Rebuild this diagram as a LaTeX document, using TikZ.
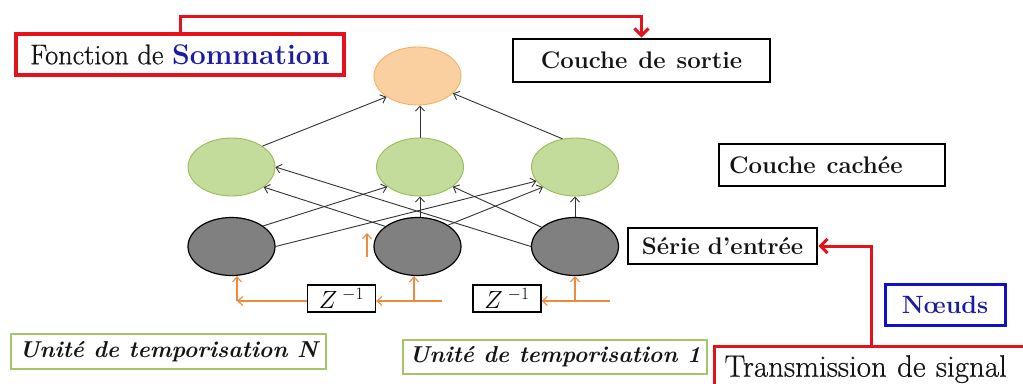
\documentclass[tikz,border=0pt]{standalone}
\usepackage{fontspec}
\newfontfamily\darkserif{Latin Modern Roman}[FakeBold=0.6]
\usetikzlibrary{shapes.geometric,arrows.meta,calc}
\definecolor{sigred}{HTML}{E5121B}
\definecolor{sumblue}{HTML}{1C1CA0}
\definecolor{boxblue}{HTML}{1010C8}
\definecolor{hidfill}{HTML}{C3DC9B}
\definecolor{hiddraw}{HTML}{9BBB59}
\definecolor{outfill}{HTML}{FAD0A0}
\definecolor{outdraw}{HTML}{F3B168}
\definecolor{infill}{HTML}{808080}
\definecolor{delay}{HTML}{EE8A3C}
\definecolor{unitdraw}{HTML}{A6C46A}
\definecolor{inkk}{HTML}{141414}

\begin{document}
\begin{tikzpicture}[x=1pt,y=-1pt,
  neuron/.style={ellipse, minimum width=87pt, minimum height=58pt, inner sep=0pt, line width=0.9pt},
  outn/.style={neuron, fill=outfill, draw=outdraw},
  hidn/.style={neuron, fill=hidfill, draw=hiddraw},
  inn/.style={neuron, fill=infill, draw=black, line width=1.2pt},
  syn/.style={draw=black!80, line width=0.9pt, -{Straight Barb[length=5pt,width=9pt]}},
  tag/.style={draw=black, line width=2.8pt, inner sep=0pt, font=\fontsize{24}{27}\selectfont\bfseries, text=inkk},
  redtag/.style={draw=sigred, line width=3.2pt, inner sep=0pt, text=inkk},
  unit/.style={draw=unitdraw, line width=1.4pt, inner sep=0pt, font=\fontsize{23}{26}\selectfont\bfseries\itshape, text=inkk},
  delaybox/.style={draw=black, line width=1.3pt, minimum width=68pt, minimum height=27pt, inner sep=0pt, font=\fontsize{23}{24}\selectfont},
  feed/.style={draw=delay, line width=1.1pt, -{Straight Barb[length=5pt,width=9pt]}},
  sig/.style={draw=sigred, line width=3pt, -{Straight Barb[length=7pt,width=14pt]}}
]
\useasboundingbox (0,0) rectangle (1023,383);
\clip (0,0) rectangle (1023,383);
\fill[white] (0,0) rectangle (1023,383);

% neurons
\node[outn] (out) at (417.5,76) {};
\node[hidn] (h1) at (231.5,167) {};
\node[hidn] (h2) at (420,167) {};
\node[hidn] (h3) at (575,167) {};
\node[inn] (i1) at (231.5,246.5) {};
\node[inn] (i2) at (417.5,246.5) {};
\node[inn] (i3) at (575,246.5) {};

% input -> hidden
\draw[syn] (i1.33) -- (h2.211);
\draw[syn] (i1.0) -- (h3.200);
\draw[syn] (i2.148) -- (h1.328);
\draw[syn] (h2.south |- i2.north) -- (h2.south);
\draw[syn] (i2.35) -- (h3.212);
\draw[syn] (i3.180) -- (h1.0);
\draw[syn] (i3.150) -- (h2.329);
\draw[syn] (i3.90) -- (h3.270);
% hidden -> output
\draw[syn] (h1.34) -- (out.214);
\draw[syn] (h2.north) -- (h2.north |- out.south);
\draw[syn] (h3.114) -- (out.334);

% delay units
\node[delaybox] (z1) at (341.5,298.5) {\raisebox{-3pt}{$Z^{\;-1}$}};
\node[delaybox] (z2) at (507,298.5) {\raisebox{-3pt}{$Z^{\;-1}$}};

\coordinate (r0) at (610,301);
\coordinate (r1) at (575,301);
\coordinate (m0) at (442,301);
\coordinate (m1) at (414,301);
\coordinate (l0) at (237,301);
\coordinate (s0) at (367,257);
\draw[feed] (r0) -- (z2.east |- r0);
\draw[feed] (r1) -- (i3.south);
\draw[feed] (m0) -- (z1.east |- m0);
\draw[feed] (m1) -- (m1 |- i2.south);
\draw[feed] (z1.west |- l0) -- (l0);
\draw[feed] (l0) -- (l0 |- i1.south);
\draw[feed] (s0) -- ++(0,-24);

% labels
\node[redtag, minimum width=328pt, minimum height=41pt, font=\fontsize{28.4}{31}\selectfont] (fonc) at (180,54.5)
  {{\darkserif Fonction de} \textcolor{sumblue}{\bfseries Sommation}};
\node[tag, minimum width=257pt, minimum height=43pt] (sortie) at (641.5,60.5) {Couche\hspace{11pt}de\hspace{11pt}sortie};
\node[tag, minimum width=226pt, minimum height=42pt, text width=206pt, align=left] (cachee) at (832,165) {Couche\hspace{11pt}cachée};
\node[tag, minimum width=189pt, minimum height=36pt] (serie) at (722.5,246) {Série\hspace{8pt}d’entrée};
\node[draw=boxblue, line width=3pt, minimum width=120pt, minimum height=41pt, inner sep=0pt,
  font=\fontsize{25}{28}\selectfont\bfseries, text=sumblue] (noeuds) at (945,304.5) {Nœuds};
\node[redtag, anchor=north west, minimum height=45pt, inner xsep=10pt, text width=310pt, align=left,
  font=\fontsize{31}{34}\selectfont\darkserif] (trans) at (713,345)
  {Transmission de signal};
\node[unit, minimum width=315pt, minimum height=35pt] (uN) at (168.5,351.5) {Unité de temporisation N};
\node[unit, minimum width=304pt, minimum height=34pt] (u1) at (555,357) {Unité de temporisation 1};

% signal connectors
\coordinate (sumtop) at (641.5,16);
\draw[sig] (fonc.north) |- (sumtop) -- (sortie.north);
\draw[sig] ($(trans.north west)+(158,0)$) |- (serie.east);
\end{tikzpicture}
\end{document}
